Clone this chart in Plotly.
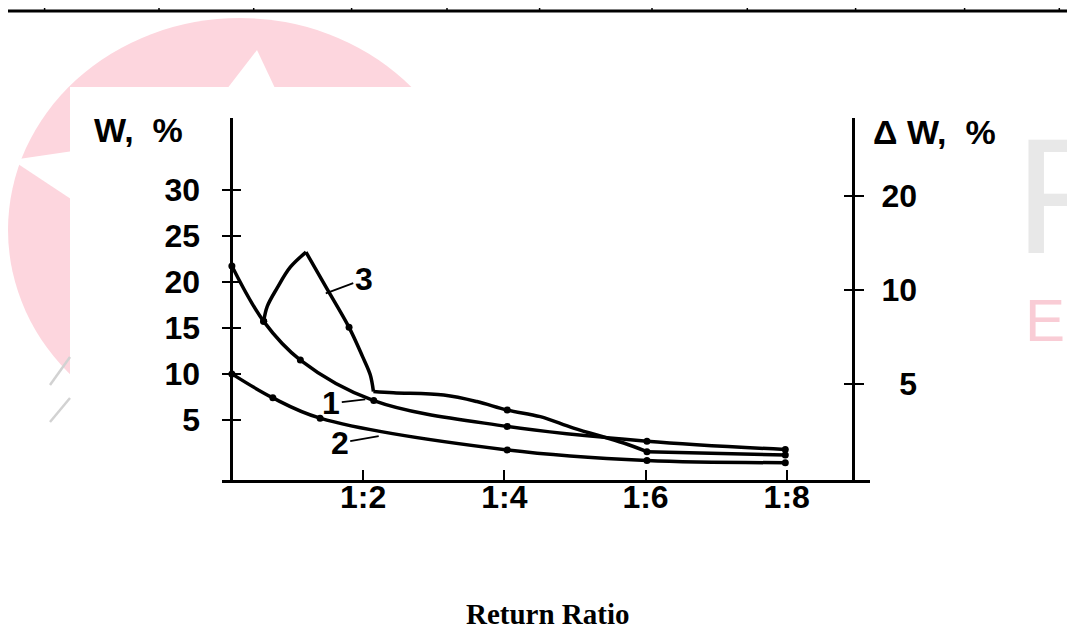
import math
import plotly.graph_objects as go

# ---------------- data ----------------
ratio_tick_vals = [2, 4, 6, 8]
ratio_tick_text = ["1:2", "1:4", "1:6", "1:8"]
w_tick_vals = [5, 10, 15, 20, 25, 30]
dw_tick_vals = [5, 10, 20]
dw_tick_text = ["\u00a0\u00a05", "10", "20"]

# curve 1 (W, %)
curve1_x = [0.14, 0.59, 1.11, 2.15, 4.04, 6.02, 7.98]
curve1_w = [21.7, 15.7, 11.5, 7.1, 4.3, 2.7, 1.8]

# curve 2 (W, %)
curve2_x = [0.14, 0.72, 1.39, 4.04, 6.02, 7.98]
curve2_w = [10.0, 7.4, 5.2, 1.75, 0.6, 0.37]

# curve 3 measured points
curve3_x = [0.59, 1.80, 4.04, 6.02, 7.98]
curve3_w = [15.7, 15.05, 6.08, 1.56, 1.2]

# curve 3 traced course (rise, fall, plateau, tail)
curve3_rise_x = [0.59, 0.64, 0.78, 0.97, 1.19]
curve3_rise_w = [15.7, 17.3, 19.3, 21.6, 23.2]
curve3_fall_x = [1.19, 1.49, 1.80, 1.99, 2.10, 2.145]
curve3_fall_w = [23.2, 19.2, 15.05, 11.9, 9.9, 8.1]
curve3_plateau_x = [2.145, 2.43, 3.14, 3.61, 4.04, 4.51, 4.98, 5.69, 6.02]
curve3_plateau_w = [8.1, 7.95, 7.7, 7.0, 6.08, 5.36, 4.12, 2.5, 1.56]
curve3_tail_x = [6.02, 7.98]
curve3_tail_w = [1.56, 1.2]

curve_labels = ["1", "2", "3"]
label_tip_x = [2.03, 2.22, 1.47]
label_tip_w = [7.24, 3.26, 18.74]

# ---------------- geometry helpers ----------------
# the page body has an 8px margin; coordinates below are screen pixels
OFF = 8
W_PX, H_PX = 1075, 628
L, T = 222 - OFF, 118 - OFF
R = W_PX - (870 - OFF)
B = H_PX - (481 - OFF)
PW = W_PX - L - R
PH = H_PX - T - B


def px(x):
    return (x - OFF - L) / PW


def py(y):
    return (H_PX - B - (y - OFF)) / PH


FONT = "Liberation Sans"
BLACK = "#000000"
tickfont = dict(family=FONT, size=32, color=BLACK, weight="bold")
titlefont = dict(family=FONT, size=34, color=BLACK, weight="bold")

fig = go.Figure()

line_style = dict(color=BLACK, width=3.5, shape="spline", smoothing=1)
marker_style = dict(color=BLACK, size=7)

fig.add_trace(go.Scatter(x=curve1_x, y=curve1_w, mode="lines+markers",
                         line=line_style, marker=marker_style,
                         name="1", showlegend=False))
fig.add_trace(go.Scatter(x=curve2_x, y=curve2_w, mode="lines+markers",
                         line=line_style, marker=marker_style,
                         name="2", showlegend=False))

path_x = curve3_rise_x + [None] + curve3_fall_x + [None] + curve3_plateau_x + [None] + curve3_tail_x
path_w = curve3_rise_w + [None] + curve3_fall_w + [None] + curve3_plateau_w + [None] + curve3_tail_w
fig.add_trace(go.Scatter(x=path_x, y=path_w, mode="lines", line=line_style,
                         connectgaps=False, name="3", showlegend=False))
fig.add_trace(go.Scatter(x=curve3_x, y=curve3_w, mode="markers",
                         marker=marker_style, name="3 points", showlegend=False))

# dummy traces to carry the helper axes
for ax_id in ["y2", "y3", "y4"]:
    fig.add_trace(go.Scatter(x=[None], y=[None], yaxis=ax_id, mode="markers",
                             showlegend=False, hoverinfo="skip"))

left_pos = px(231.3)
right_pos = px(853.3)
w_range = [-1.62, 37.76]
dw_range = [0.3889, 1.5494]

fig.update_layout(
    width=W_PX, height=H_PX,
    margin=dict(l=L, r=R, t=T, b=B, pad=0),
    paper_bgcolor="white", plot_bgcolor="rgba(0,0,0,0)",
    showlegend=False,
    xaxis=dict(range=[0, 9.18], anchor="free", position=0,
               showline=True, linecolor=BLACK, linewidth=3,
               ticks="inside", ticklen=10, tickwidth=2, tickcolor=BLACK,
               tickvals=ratio_tick_vals, ticktext=ratio_tick_text,
               tickfont=tickfont, ticklabelstandoff=-13,
               showgrid=False, zeroline=False),
    yaxis=dict(range=w_range, anchor="free", position=left_pos,
               showline=True, linecolor=BLACK, linewidth=2.5,
               ticks="outside", ticklen=9, tickwidth=2, tickcolor=BLACK,
               tickvals=w_tick_vals, tickfont=tickfont, ticklabelstandoff=15,
               showgrid=False, zeroline=False),
    yaxis3=dict(range=w_range, anchor="free", position=left_pos, overlaying="y",
                showline=False, ticks="inside", ticklen=9, tickwidth=2,
                tickcolor=BLACK, tickvals=w_tick_vals, showticklabels=False,
                showgrid=False, zeroline=False),
    yaxis2=dict(type="log", range=dw_range, anchor="free", position=right_pos,
                overlaying="y", side="right",
                showline=True, linecolor=BLACK, linewidth=2.5,
                ticks="outside", ticklen=9, tickwidth=2, tickcolor=BLACK,
                tickvals=dw_tick_vals, ticktext=dw_tick_text, tickfont=tickfont,
                ticklabelstandoff=11, showgrid=False, zeroline=False),
    yaxis4=dict(type="log", range=dw_range, anchor="free", position=right_pos,
                overlaying="y", side="right", showline=False,
                ticks="inside", ticklen=9, tickwidth=2, tickcolor=BLACK,
                tickvals=dw_tick_vals, showticklabels=False,
                showgrid=False, zeroline=False),
)

# ---------------- annotations ----------------
ann = []
offsets = [(-34, 4), (-39, 7), (38, -14)]
for lab, tx, tw, (dx, dy) in zip(curve_labels, label_tip_x, label_tip_w, offsets):
    ann.append(dict(x=tx, y=tw, xref="x", yref="y", text=lab, showarrow=True,
                    arrowhead=0, arrowwidth=1.8, arrowcolor=BLACK, ax=dx, ay=dy,
                    standoff=0, font=tickfont))

ann.append(dict(x=px(138), y=py(130), xref="paper", yref="paper",
                text="W,\u00a0\u00a0%",
                showarrow=False, xanchor="center", yanchor="middle", font=titlefont))
ann.append(dict(x=px(934), y=py(132), xref="paper", yref="paper",
                text="Δ\u00a0W,\u00a0\u00a0%",
                showarrow=False, xanchor="center", yanchor="middle", font=titlefont))
ann.append(dict(x=px(547.5), y=py(614), xref="paper", yref="paper", text="Return Ratio",
                showarrow=False, xanchor="center", yanchor="middle",
                font=dict(family="Liberation Serif", size=29, color=BLACK, weight="bold")))
# watermark letters
ann.append(dict(x=px(1013), y=py(196), xref="paper", yref="paper", text="R",
                showarrow=False, xanchor="left", yanchor="middle",
                font=dict(family=FONT, size=165, color="#e8e8e8")))
ann.append(dict(x=px(1023), y=py(320), xref="paper", yref="paper", text="ES",
                showarrow=False, xanchor="left", yanchor="middle",
                font=dict(family=FONT, size=60, color="#f9ccd5")))
fig.update_layout(annotations=ann)

# ---------------- background decorations (scan artefacts) ----------------
shapes = []
PINK = "#fdd6de"
cx, cy, rx, ry = 240, 230, 232, 212
shapes.append(dict(type="circle", xref="paper", yref="paper", layer="below",
                   x0=px(cx - rx), x1=px(cx + rx), y0=py(cy + ry), y1=py(cy - ry),
                   fillcolor=PINK, line=dict(width=0)))


def poly(points):
    return "M " + " L ".join(f"{px(a):.5f},{py(b):.5f}" for a, b in points) + " Z"


shapes.append(dict(type="path", xref="paper", yref="paper", layer="below",
                   path=poly([(203, 120), (257, 50), (290, 120)]),
                   fillcolor="white", line=dict(width=0)))
shapes.append(dict(type="path", xref="paper", yref="paper", layer="below",
                   path=poly([(12, 160), (80, 150), (80, 205)]),
                   fillcolor="white", line=dict(width=0)))
# white chart box
shapes.append(dict(type="rect", xref="paper", yref="paper", layer="below",
                   x0=px(70), x1=px(1025), y0=py(650), y1=py(87),
                   fillcolor="white", line=dict(width=0)))
# grey slashes of the logo
for (xa, ya, xb, yb) in [(50, 385, 70, 357), (50, 422, 70, 398)]:
    shapes.append(dict(type="line", xref="paper", yref="paper", layer="below",
                       x0=px(xa), y0=py(ya), x1=px(xb), y1=py(yb),
                       line=dict(color="#d2d2d2", width=2.5)))
# table border at the top
shapes.append(dict(type="line", xref="paper", yref="paper",
                   x0=px(0), x1=px(1085), y0=py(11), y1=py(11),
                   line=dict(color=BLACK, width=3)))
for vx in [44.6, 159, 253.7, 351.6, 447, 539.6, 652, 747.3, 855.6, 964.6, 1059.3]:
    shapes.append(dict(type="line", xref="paper", yref="paper",
                       x0=px(vx), x1=px(vx), y0=py(0), y1=py(11),
                       line=dict(color=BLACK, width=1.5)))
fig.update_layout(shapes=shapes)

fig.write_html("out.html")
